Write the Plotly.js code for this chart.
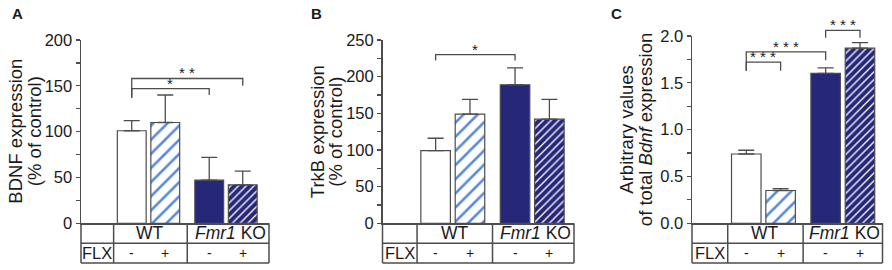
<!DOCTYPE html>
<html>
<head>
<meta charset="utf-8">
<script src="https://cdn.plot.ly/plotly-3.0.1.min.js"></script>
<style>html,body{margin:0;padding:0;background:#fff;}#chart{width:892px;height:270px;}</style>
</head>
<body>
<div id="chart"></div>
<script>
// ---------- data ----------
const groups = ['WT', 'Fmr1 KO'];
const groupLabels = ['WT', '<i>Fmr1</i> KO'];
const flxSigns = ['-', '+'];
const flxRowLabel = 'FLX';
const panelLetters = ['A', 'B', 'C'];
const yTitleLines = [
  ['BDNF expression', '(% of control)'],
  ['TrkB expression', '(% of control)'],
  ['Arbitrary values', 'of total <i>Bdnf</i> expression']
];

// Panel A: BDNF protein (% of control)
const bdnfFlxNeg = [101, 47];
const bdnfFlxPos = [110, 42];
const bdnfErrNeg = [11, 25];
const bdnfErrPos = [30, 15];

// Panel B: TrkB protein (% of control)
const trkbFlxNeg = [99, 189];
const trkbFlxPos = [149, 142];
const trkbErrNeg = [17, 23];
const trkbErrPos = [20, 27];

// Panel C: total Bdnf mRNA (arbitrary values)
const mrnaFlxNeg = [0.74, 1.60];
const mrnaFlxPos = [0.35, 1.87];
const mrnaErrNeg = [0.04, 0.06];
const mrnaErrPos = [0.02, 0.06];

// significance brackets: bars given as [groupIndex, flxIndex]
const sigA = [
  {from: [0, 0], to: [1, 0], y: 147, drops: [137, 140], label: '*'},
  {from: [0, 0], to: [1, 1], y: 158, drops: [137, 150], label: '* *'}
];
const sigB = [
  {from: [0, 0], to: [1, 0], y: 230, drops: [222, 222], label: '*'}
];
const sigC = [
  {from: [0, 0], to: [0, 1], y: 1.72, drops: [1.63, 1.63], label: '* * *'},
  {from: [0, 0], to: [1, 0], y: 1.83, drops: [1.63, 1.74], label: '* * *'},
  {from: [1, 0], to: [1, 1], y: 2.06, drops: [1.98, 1.98], label: '* * *'}
];

// ---------- styling / layout ----------
const W = 892, H = 270;
const FONT = 'Liberation Sans, Arial, Helvetica, sans-serif';
const TXT = '#1a1a1a';
const NAVY = '#27277a';
const LIGHT = '#5b8ad6';
const GREY = '#4d4d4d';
const bargap = 0.135, bargroupgap = 0.14;
const barOff = (1 - bargap) / 4;

// bar styles indexed [group][flx]
const barStyles = [
  [{color: '#ffffff'}, {color: '#ffffff', pattern: {shape: '/', fgcolor: LIGHT, bgcolor: '#ffffff', size: 10, solidity: 0.26, fillmode: 'replace'}}],
  [{color: NAVY}, {color: NAVY, pattern: {shape: '/', fgcolor: '#ffffff', bgcolor: NAVY, size: 5.5, solidity: 0.24, fillmode: 'replace'}}]
];

const yTopA = 1 - 40 / H, yBot = 1 - 223.3 / H;
const panels = [
  {xdom: [81 / W, 269 / W], xr: [-0.871, 1.555], ydom: [yBot, yTopA], ymax: 200, dtick: 50, minor: 25, fmt: 'd',
   vals: [bdnfFlxNeg, bdnfFlxPos], errs: [bdnfErrNeg, bdnfErrPos], sig: sigA, letterX: 17.5},
  {xdom: [382.5 / W, 574 / W], xr: [-0.885, 1.526], ydom: [yBot, yTopA], ymax: 250, dtick: 50, minor: 25, fmt: 'd',
   vals: [trkbFlxNeg, trkbFlxPos], errs: [trkbErrNeg, trkbErrPos], sig: sigB, letterX: 316},
  {xdom: [692 / W, 882.5 / W], xr: [-0.9, 1.5], ydom: [yBot, 1 - 36 / H], ymax: 2, dtick: 0.5, minor: 0.25, fmt: '.1f',
   vals: [mrnaFlxNeg, mrnaFlxPos], errs: [mrnaErrNeg, mrnaErrPos], sig: sigC, letterX: 616.5}
];

function px(p, xv) { return p.xdom[0] + (xv - p.xr[0]) / (p.xr[1] - p.xr[0]) * (p.xdom[1] - p.xdom[0]); }
function py(p, yv) { return p.ydom[0] + yv / p.ymax * (p.ydom[1] - p.ydom[0]); }
function barX(b) { return b[0] + (b[1] === 0 ? -barOff : barOff); }

const data = [];
const layout = {
  width: W, height: H,
  margin: {l: 0, r: 0, t: 0, b: 0},
  paper_bgcolor: '#fff', plot_bgcolor: 'rgba(0,0,0,0)',
  showlegend: false,
  barmode: 'group', bargap: bargap, bargroupgap: bargroupgap,
  font: {family: FONT, color: TXT},
  shapes: [], annotations: []
};

const rowTop = 1 - 223.3 / H, rowMid = 1 - 243.3 / H, rowBot = 1 - 263 / H;
const colSplit1 = -0.45, colSplit2 = 0.5;

panels.forEach((p, i) => {
  const xa = 'x' + (i === 0 ? '' : i + 1), ya = 'y' + (i === 0 ? '' : i + 1);
  for (let f = 0; f < 2; f++) {
    for (let g = 0; g < 2; g++) {
      data.push({
        type: 'bar', x: [groups[g]], y: [p.vals[f][g]], xaxis: xa, yaxis: ya, cliponaxis: false,
        offsetgroup: 'flx' + f,
        marker: Object.assign({line: {color: GREY, width: 1.2}}, barStyles[g][f]),
        error_y: {type: 'data', symmetric: false, array: [p.errs[f][g]], arrayminus: [0], color: GREY, thickness: 1.3, width: 8},
        hoverinfo: 'skip'
      });
    }
  }

  const xk = 'xaxis' + (i === 0 ? '' : i + 1), yk = 'yaxis' + (i === 0 ? '' : i + 1);
  layout[xk] = {domain: p.xdom, anchor: ya, range: p.xr, type: 'category', categoryarray: groups,
    showline: true, linecolor: GREY, linewidth: 1.5, ticks: '', showticklabels: false, showgrid: false, zeroline: false, fixedrange: true};
  layout[yk] = {domain: p.ydom, anchor: xa, range: [0, p.ymax], dtick: p.dtick, tick0: 0, tickformat: p.fmt,
    showline: true, linecolor: GREY, linewidth: 1.5, ticks: 'outside', ticklen: 4, tickwidth: 1.2, tickcolor: GREY,
    minor: {dtick: p.minor, ticks: 'outside', ticklen: 4, tickwidth: 1.2, tickcolor: GREY, showgrid: false},
    showgrid: false, zeroline: false, fixedrange: true,
    tickfont: {family: FONT, size: 16.5, color: TXT}};

  // table lines
  const ln = (x0, y0, x1, y1) => layout.shapes.push({type: 'line', xref: 'paper', yref: 'paper', x0, y0, x1, y1, line: {color: GREY, width: 1.5}});
  ln(p.xdom[0], rowBot, p.xdom[0], rowTop);
  ln(px(p, colSplit1), rowBot, px(p, colSplit1), rowTop);
  ln(px(p, colSplit2), rowBot, px(p, colSplit2), rowTop);
  ln(p.xdom[1], rowBot, p.xdom[1], rowTop);
  ln(p.xdom[0], rowMid, p.xdom[1], rowMid);
  ln(p.xdom[0], rowBot, p.xdom[1], rowBot);

  const ann = (x, y, text, size, extra) => layout.annotations.push(Object.assign({xref: 'paper', yref: 'paper', x, y, text, showarrow: false,
    xanchor: 'center', yanchor: 'middle', font: {family: FONT, size: size, color: TXT}}, extra || {}));
  // table text
  ann((px(p, colSplit1) + px(p, colSplit2)) / 2, (rowTop + rowMid) / 2, groupLabels[0], 17.5);
  ann((px(p, colSplit2) + p.xdom[1]) / 2 + 2 / W, (rowTop + rowMid) / 2, groupLabels[1], 17.5);
  ann((p.xdom[0] + px(p, colSplit1)) / 2, (rowMid + rowBot) / 2, flxRowLabel, 16.5);
  [0, 1].forEach(g => [0, 1].forEach(f => ann(px(p, barX([g, f])), (rowMid + rowBot) / 2, flxSigns[f], 14)));

  // y-axis title (two rotated lines)
  const yMid = (p.ydom[0] + p.ydom[1]) / 2;
  const axisPx = p.xdom[0] * W;
  ann((axisPx - 65) / W, yMid, yTitleLines[i][0], 18.5, {textangle: -90});
  ann((axisPx - 46.5) / W, yMid, yTitleLines[i][1], 18.5, {textangle: -90});

  // panel letter
  ann(p.letterX / W, 1 - 14 / H, panelLetters[i], 15, {font: {family: FONT, size: 15, color: TXT, weight: 'bold'}});

  // significance brackets
  p.sig.forEach(s => {
    const xa0 = px(p, barX(s.from)), xb = px(p, barX(s.to));
    const yl = py(p, s.y);
    layout.shapes.push({type: 'path', xref: 'paper', yref: 'paper',
      path: 'M' + xa0 + ',' + py(p, s.drops[0]) + ' L' + xa0 + ',' + yl + ' L' + xb + ',' + yl + ' L' + xb + ',' + py(p, s.drops[1]),
      line: {color: GREY, width: 1.3}});
    ann((xa0 + xb) / 2, yl, s.label, 15, {yanchor: 'bottom', yshift: -5});
  });
});

Plotly.newPlot('chart', data, layout, {staticPlot: true, displayModeBar: false});
</script>
</body>
</html>
